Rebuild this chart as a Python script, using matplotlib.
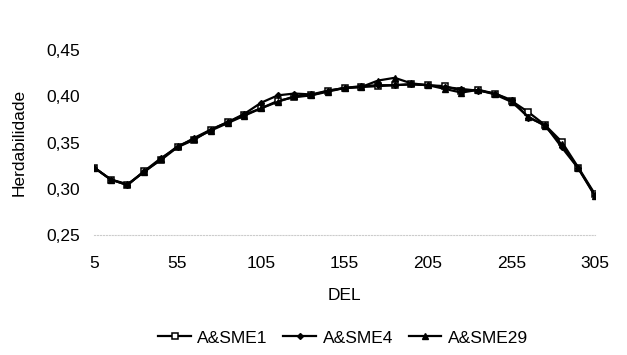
import matplotlib
matplotlib.use("Agg")
import matplotlib.pyplot as plt

plt.rcParams['font.family'] = ['Liberation Sans', 'DejaVu Sans']

# DEL (dias em lactacao)
del_days = [5, 15, 25, 35, 45, 55, 65, 75, 85, 95, 105, 115, 125, 135, 145, 155,
            165, 175, 185, 195, 205, 215, 225, 235, 245, 255, 265, 275, 285, 295, 305]

sme1 = [0.323, 0.310, 0.304, 0.319, 0.331, 0.345, 0.353, 0.364, 0.372, 0.380, 0.387,
        0.395, 0.399, 0.401, 0.406, 0.409, 0.410, 0.411, 0.412, 0.413, 0.412, 0.411,
        0.406, 0.407, 0.403, 0.395, 0.383, 0.369, 0.351, 0.323, 0.294]
sme4 = [0.323, 0.310, 0.304, 0.319, 0.333, 0.345, 0.355, 0.364, 0.372, 0.381, 0.393,
        0.401, 0.403, 0.402, 0.406, 0.409, 0.411, 0.412, 0.412, 0.413, 0.412, 0.410,
        0.408, 0.406, 0.403, 0.396, 0.377, 0.369, 0.345, 0.322, 0.293]
sme29 = [0.323, 0.310, 0.305, 0.318, 0.332, 0.346, 0.354, 0.363, 0.371, 0.379, 0.387,
         0.394, 0.400, 0.401, 0.405, 0.409, 0.410, 0.417, 0.420, 0.414, 0.412, 0.408,
         0.404, 0.407, 0.402, 0.394, 0.378, 0.368, 0.348, 0.322, 0.292]

xticks = [5, 55, 105, 155, 205, 255, 305]
yticks = [0.25, 0.30, 0.35, 0.40, 0.45]

fig = plt.figure(figsize=(6.27, 3.55), dpi=100)
ax = fig.add_axes([0.150, 0.338, 0.799, 0.521])

ax.plot(del_days, sme1, color='black', lw=1.6, marker='s', ms=4,
        mfc='white', mec='black', mew=1.1, label='A&SME1')
ax.plot(del_days, sme4, color='black', lw=1.6, marker='D', ms=3,
        label='A&SME4')
ax.plot(del_days, sme29, color='black', lw=1.6, marker='^', ms=5,
        label='A&SME29')

ax.set_xlim(5, 305)
ax.set_ylim(0.25, 0.45)
ax.set_xticks(xticks)
ax.set_yticks(yticks)
ax.set_yticklabels([f"{v:.2f}".replace('.', ',') for v in yticks])
ax.tick_params(axis='x', length=0, pad=15, labelsize=12.5)
ax.tick_params(axis='y', length=0, pad=10, labelsize=12.5)

for s in ['top', 'right', 'left']:
    ax.spines[s].set_visible(False)
ax.spines['bottom'].set_linestyle(':')
ax.spines['bottom'].set_color('#cccccc')
ax.spines['bottom'].set_linewidth(0.8)

ax.set_xlabel('DEL', fontsize=12.5, labelpad=12)
ax.set_ylabel('Herdabilidade', fontsize=12.5, labelpad=14)

fig.legend(loc='center', bbox_to_anchor=(0.547, 0.048), ncol=3, frameon=False,
           fontsize=12.5, handlelength=1.9, handletextpad=0.35, columnspacing=0.9)

fig.savefig('out.png', dpi=100)
